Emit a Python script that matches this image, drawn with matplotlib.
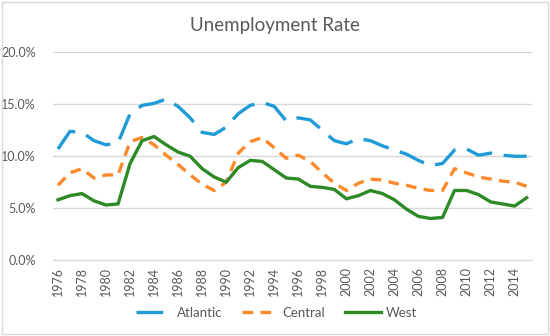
import matplotlib
matplotlib.use("Agg")
import matplotlib.pyplot as plt
from matplotlib.ticker import PercentFormatter, FixedLocator
from matplotlib.patches import Rectangle

years = list(range(1976, 2016))
atlantic = [10.7, 12.4, 12.3, 11.5, 11.1, 11.3, 14.1, 14.9, 15.1, 15.5,
            14.8, 13.7, 12.3, 12.1, 12.8, 14.1, 14.9, 15.2, 14.8, 13.4,
            13.7, 13.5, 12.5, 11.5, 11.2, 11.7, 11.5, 11.0, 10.6, 10.2,
            9.6, 9.1, 9.3, 10.6, 10.7, 10.1, 10.3, 10.1, 10.0, 10.0]
central = [7.2, 8.4, 8.8, 7.9, 8.2, 8.2, 11.4, 11.8, 11.1, 10.1,
           9.2, 8.2, 7.3, 6.7, 7.5, 10.3, 11.4, 11.8, 10.8, 9.8,
           10.1, 9.5, 8.4, 7.4, 6.7, 7.4, 7.8, 7.7, 7.4, 7.2,
           6.9, 6.7, 6.7, 8.8, 8.4, 8.0, 7.8, 7.6, 7.5, 7.1]
west = [5.8, 6.2, 6.4, 5.7, 5.3, 5.4, 9.3, 11.5, 11.9, 11.1,
        10.4, 10.0, 8.8, 8.0, 7.5, 8.9, 9.6, 9.5, 8.7, 7.9,
        7.8, 7.1, 7.0, 6.8, 5.9, 6.2, 6.7, 6.4, 5.8, 4.9,
        4.2, 4.0, 4.1, 6.7, 6.7, 6.3, 5.6, 5.4, 5.2, 6.0]
series_names = ["Atlantic", "Central", "West"]
title = "Unemployment Rate"
xtick_years = list(range(1976, 2015, 2))
yticks = [0, 5, 10, 15, 20]

plt.rcParams['font.family'] = ['Lato', 'DejaVu Sans']
txt = '#595959'
grid_c = '#d9d9d9'

fig = plt.figure(figsize=(5.5, 3.36), dpi=100)
ax = fig.add_axes([0.0958, 0.2262, 0.8709, 0.6176])

ax.plot(years, [v / 100 for v in atlantic], color='#1f9bd7', lw=2.4,
        linestyle=(0, (8, 3.5)), label=series_names[0])
ax.plot(years, [v / 100 for v in central], color='#fb8a2c', lw=2.4,
        linestyle=(0, (3.2, 2.2)), label=series_names[1])
ax.plot(years, [v / 100 for v in west], color='#2e8a26', lw=2.4,
        linestyle='-', label=series_names[2])

ax.set_xlim(1975.56, 2015.42)
ax.set_ylim(0, 0.2)
ax.yaxis.set_major_locator(FixedLocator([v / 100 for v in yticks]))
ax.yaxis.set_major_formatter(PercentFormatter(1.0, decimals=1))
ax.set_xticks(xtick_years)
ax.set_xticklabels([str(y) for y in xtick_years], rotation=90)
ax.tick_params(axis='both', length=0, colors=txt, labelsize=9)
ax.tick_params(axis='y', pad=12)
ax.tick_params(axis='x', pad=5)
ax.grid(axis='y', color=grid_c, lw=1)
ax.set_axisbelow(True)
for s in ax.spines.values():
    s.set_visible(False)
ax.spines['bottom'].set_visible(True)
ax.spines['bottom'].set_color(grid_c)

fig.text(0.5, 0.925, title, ha='center', va='center', fontsize=13.5, color=txt)

leg = fig.legend(loc='center', bbox_to_anchor=(0.503, 0.069), ncol=3, frameon=False,
                 fontsize=9.5, handlelength=2.7, columnspacing=1.5, handletextpad=0.4)
for t in leg.get_texts():
    t.set_color(txt)

fig.patches.append(Rectangle((0.004, 0.006), 0.992, 0.988, transform=fig.transFigure,
                             fill=False, edgecolor=grid_c, lw=1))

fig.savefig('out.png', dpi=100)
